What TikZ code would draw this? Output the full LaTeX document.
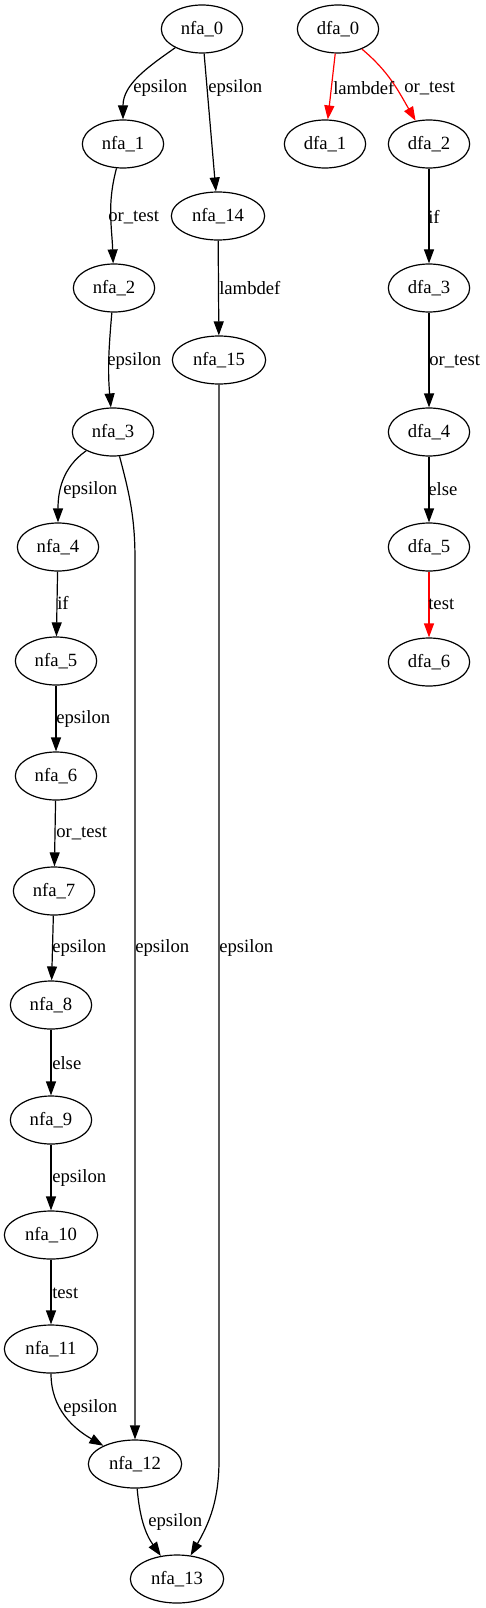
\documentclass[tikz,border=0pt]{standalone}
\usepackage{fontspec}
\setmainfont{Liberation Serif}
\usetikzlibrary{shapes.geometric,arrows.meta}
\begin{document}
\begin{tikzpicture}[
  x=0.75pt, y=-0.75pt,
  state/.style = {draw, ellipse, line width=0.9pt, inner sep=0pt,
    minimum width=61pt, minimum height=36pt, font=\fontsize{14pt}{16pt}\selectfont},
  wide/.style = {minimum width=70pt},
  lbl/.style = {anchor=west, inner sep=0pt, font=\fontsize{14pt}{16pt}\selectfont},
  edge/.style = {line width=0.9pt, -{Triangle[length=10.5pt,width=7.5pt]}},
  hot/.style = {edge, red}
  ]
  \useasboundingbox (0,0) rectangle (485,1608);
  % nfa states
  \node[state] (nfa0) at (202,29) {nfa\_0};
  \node[state] (nfa1) at (123,144) {nfa\_1};
  \node[state, wide] (nfa14) at (218,216) {nfa\_14};
  \node[state] (nfa2) at (114,288) {nfa\_2};
  \node[state, wide] (nfa15) at (219,360) {nfa\_15};
  \node[state] (nfa3) at (113,432) {nfa\_3};
  \node[state] (nfa4) at (58,547) {nfa\_4};
  \node[state] (nfa5) at (56,661) {nfa\_5};
  \node[state] (nfa6) at (56,776) {nfa\_6};
  \node[state] (nfa7) at (54,891) {nfa\_7};
  \node[state] (nfa8) at (51,1005) {nfa\_8};
  \node[state] (nfa9) at (51,1120) {nfa\_9};
  \node[state, wide] (nfa10) at (51,1235) {nfa\_10};
  \node[state, wide] (nfa11) at (51,1349) {nfa\_11};
  \node[state, wide] (nfa12) at (135,1464) {nfa\_12};
  \node[state, wide] (nfa13) at (177,1579) {nfa\_13};
  % dfa states
  \node[state] (dfa0) at (338,29) {dfa\_0};
  \node[state] (dfa1) at (325,144) {dfa\_1};
  \node[state] (dfa2) at (429,144) {dfa\_2};
  \node[state] (dfa3) at (429,288) {dfa\_3};
  \node[state] (dfa4) at (429,432) {dfa\_4};
  \node[state] (dfa5) at (429,547) {dfa\_5};
  \node[state] (dfa6) at (429,662) {dfa\_6};
  % bends of the long edges
  \coordinate (bend3) at (135,560);
  \coordinate (bend15) at (219,1460);
  % nfa edges
  \draw[edge] (nfa0) to[out=215,in=90] (nfa1);
  \draw[edge] (nfa0) -- (nfa14);
  \draw[edge] (nfa1) to[out=-105,in=92] (nfa2);
  \draw[edge] (nfa14) -- (nfa15);
  \draw[edge] (nfa2) to[out=-95,in=95] (nfa3);
  \draw[edge] (nfa3) to[out=215,in=90] (nfa4);
  \draw[edge] (nfa3) to[out=-75,in=90] (bend3) -- (nfa12);
  \draw[edge] (nfa15) -- (bend15) to[out=-90,in=60] (nfa13);
  \draw[edge] (nfa4) -- (nfa5);
  \draw[edge] (nfa5) -- (nfa6);
  \draw[edge] (nfa6) -- (nfa7);
  \draw[edge] (nfa7) -- (nfa8);
  \draw[edge] (nfa8) -- (nfa9);
  \draw[edge] (nfa9) -- (nfa10);
  \draw[edge] (nfa10) -- (nfa11);
  \draw[edge] (nfa11) to[out=-90,in=150] (nfa12);
  \draw[edge] (nfa12) to[out=-85,in=125] (nfa13);
  % dfa edges
  \draw[hot] (dfa0) -- (dfa1);
  \draw[hot] (dfa0) to[out=-40,in=120] (dfa2);
  \draw[edge] (dfa2) -- (dfa3);
  \draw[edge] (dfa3) -- (dfa4);
  \draw[edge] (dfa4) -- (dfa5);
  \draw[hot] (dfa5) -- (dfa6);
  % edge labels
  \node[lbl] (l-0-1) at (133,88) {epsilon};
  \node[lbl] (l-0-14) at (208,88) {epsilon};
  \node[lbl] (l-1-2) at (108,217) {or\_test};
  \node[lbl] (l-14-15) at (219,288) {lambdef};
  \node[lbl] (l-2-3) at (107,361) {epsilon};
  \node[lbl] (l-3-4) at (63,490) {epsilon};
  \node[lbl] (l-4-5) at (57,603) {if};
  \node[lbl] (l-5-6) at (56,719) {epsilon};
  \node[lbl] (l-6-7) at (56,833) {or\_test};
  \node[lbl] (l-7-8) at (52,948) {epsilon};
  \node[lbl] (l-3-12) at (135,948) {epsilon};
  \node[lbl] (l-15-13) at (219,948) {epsilon};
  \node[lbl] (l-8-9) at (52,1063) {else};
  \node[lbl] (l-9-10) at (52,1178) {epsilon};
  \node[lbl] (l-10-11) at (52,1293) {test};
  \node[lbl] (l-11-12) at (63,1408) {epsilon};
  \node[lbl] (l-12-13) at (148,1522) {epsilon};
  \node[lbl] (d-0-1) at (333,88) {lambdef};
  \node[lbl] (d-0-2) at (404,88) {or\_test};
  \node[lbl] (d-2-3) at (428,217) {if};
  \node[lbl] (d-3-4) at (429,361) {or\_test};
  \node[lbl] (d-4-5) at (428,489) {else};
  \node[lbl] (d-5-6) at (428,604) {test};
\end{tikzpicture}
\end{document}
